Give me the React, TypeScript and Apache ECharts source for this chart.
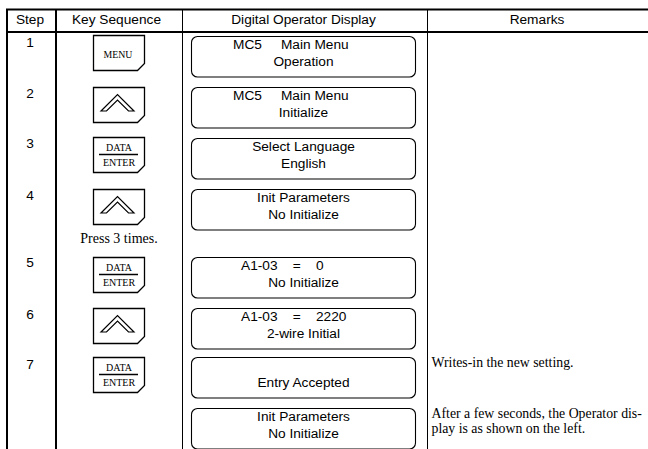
import React, { useEffect, useRef } from "react";
import * as echarts from "echarts";

const headers = ["Step", "Key Sequence", "Digital Operator Display", "Remarks"];
const stepLabels = ["1", "2", "3", "4", "5", "6", "7"];
const keyKinds = ["MENU", "UP", "DATA", "UP", "DATA", "UP", "DATA"];
const pressNote = "Press 3 times.";
const displayLines = [
  ["MC5     Main Menu", "Operation"],
  ["MC5     Main Menu", "Initialize"],
  ["Select Language", "English"],
  ["Init Parameters", "No Initialize"],
  ["A1-03    =    0", "No Initialize"],
  ["A1-03    =    2220", "2-wire Initial"],
  ["", "Entry Accepted"],
  ["Init Parameters", "No Initialize"],
];
const remarkLines = [
  ["Writes-in the new setting."],
  ["After a few seconds, the Operator dis-", "play is as shown on the left."],
];

// layout
const stepY = [42, 93, 143.5, 195, 262.5, 314.5, 364];
const keyTop = [35, 87, 137, 189, 257, 308, 357];
const boxTop = [36, 87, 138, 189, 257, 308, 357, 408];
const firstLineLeft = [233, 233, null, null, 241, 241, null, null];
const remarkY = [[362.5], [413, 428]];
const SANS = '"Liberation Sans", Arial, sans-serif';
const SERIF = '"Liberation Serif", "Times New Roman", serif';
const FS = 13.7;

function txt(x: number, y: number, text: string, fontSize: number, fontFamily: string, textAlign = "center") {
  return {
    type: "text",
    x,
    y,
    silent: true,
    style: { text, fontSize, fontFamily, fill: "#000", textAlign, textVerticalAlign: "middle" },
  };
}
function line(x1: number, y1: number, x2: number, y2: number, lineWidth = 1) {
  return { type: "line", silent: true, shape: { x1, y1, x2, y2 }, style: { stroke: "#000", lineWidth } };
}
function keyGraphic(kind: string, top: number) {
  const l = 93.5, r = 144.5, t = top + 0.5, b = top + 35.5;
  const out: any[] = [
    {
      type: "polygon",
      silent: true,
      shape: { points: [[l, t], [r, t], [r, b - 7], [r - 7, b], [l, b]] },
      style: { fill: "#fff", stroke: "#000", lineWidth: 1.3 },
    },
  ];
  if (kind === "MENU") {
    out.push(txt(118, top + 19, "MENU", 9.8, SERIF));
  } else if (kind === "DATA") {
    out.push(txt(119, top + 10, "DATA", 10, SERIF));
    out.push(line(99, top + 17.5, 138, top + 17.5, 1.5));
    out.push(txt(119, top + 25, "ENTER", 10, SERIF));
  } else {
    const c = 117.5;
    out.push({
      type: "polygon",
      silent: true,
      shape: {
        points: [[c - 16.5, top + 24], [c, top + 7.5], [c + 16.5, top + 24], [c + 11, top + 24], [c, top + 13], [c - 11, top + 24]],
      },
      style: { fill: "#fff", stroke: "#000", lineWidth: 1.2 },
    });
  }
  return out;
}

function buildGraphic() {
  const els: any[] = [];
  // rules
  els.push(line(6, 9.5, 648, 9.5, 2));
  els.push(line(6, 32, 648, 32, 2));
  els.push(line(7, 9, 7, 449, 2));
  els.push(line(56, 9, 56, 449, 2));
  els.push(line(182.5, 9, 182.5, 449, 1));
  els.push(line(427.5, 9, 427.5, 449, 1));
  // headers
  els.push(txt(30, 19.5, headers[0], FS, SANS));
  els.push(txt(116.5, 19.5, headers[1], FS, SANS));
  els.push(txt(303.5, 19.5, headers[2], FS, SANS));
  els.push(txt(537, 19.5, headers[3], FS, SANS));
  // steps + keys
  stepLabels.forEach((s, i) => els.push(txt(30, stepY[i], s, FS, SANS)));
  keyKinds.forEach((k, i) => els.push(...keyGraphic(k, keyTop[i])));
  els.push(txt(119, 238.5, pressNote, 14, SERIF));
  // displays
  displayLines.forEach((lines, i) => {
    const t = boxTop[i];
    els.push({
      type: "rect",
      silent: true,
      shape: { x: 191.5, y: t + 0.5, width: 224, height: 40.5, r: 6 },
      style: { fill: "#fff", stroke: "#000", lineWidth: 1.1 },
    });
    const left = firstLineLeft[i];
    if (lines[0]) {
      els.push(left == null ? txt(303.5, t + 8.5, lines[0], FS, SANS) : txt(left, t + 8.5, lines[0], FS, SANS, "left"));
    }
    els.push(txt(303.5, t + 25.5, lines[1], FS, SANS));
  });
  // remarks
  remarkLines.forEach((lines, i) =>
    lines.forEach((s, j) => els.push(txt(431.5, remarkY[i][j], s, 13.8, SERIF, "left")))
  );
  return els;
}

export default function App() {
  const ref = useRef<HTMLDivElement>(null);
  useEffect(() => {
    document.body.style.margin = "0";
    document.body.style.background = "#fff";
    const chart = echarts.init(ref.current!, undefined, { renderer: "svg" });
    chart.setOption({ animation: false, backgroundColor: "#fff", graphic: { elements: buildGraphic() } });
    return () => chart.dispose();
  }, []);
  return <div ref={ref} style={{ width: 648, height: 449 }} />;
}
